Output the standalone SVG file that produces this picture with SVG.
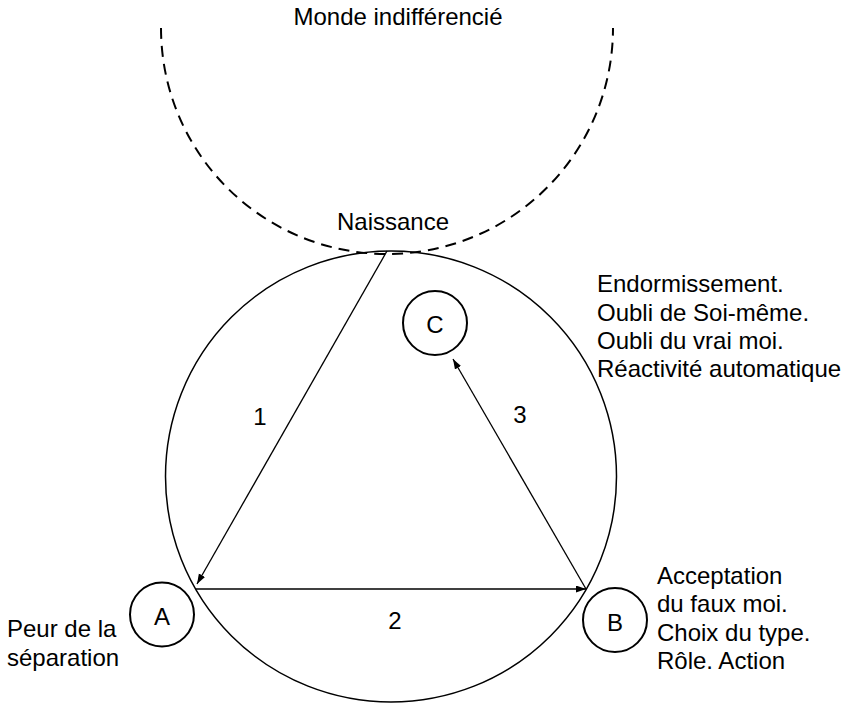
<svg xmlns="http://www.w3.org/2000/svg" width="845" height="703" viewBox="0 0 845 703">
<style>
text{font-family:"Liberation Sans",Arial,sans-serif;font-size:24px;fill:#000}
.mid{text-anchor:middle}
.node{fill:#fff;stroke:#000;stroke-width:2}
.big{fill:none;stroke:#000;stroke-width:1.5}
.dash{fill:none;stroke:#000;stroke-width:2;stroke-dasharray:11 7}
.conn{fill:none;stroke:#000;stroke-width:1.3;marker-end:url(#ah)}
</style>
<defs>
<marker id="ah" markerUnits="userSpaceOnUse" markerWidth="11" markerHeight="8" refX="10" refY="3.5" orient="auto">
<path d="M0,0 L10,3.5 L0,7 z" fill="#000"/>
</marker>
</defs>
<rect width="845" height="703" fill="#fff"/>
<g id="monde">
<path class="dash" d="M161,28 A226,226 0 0 0 613,28"/>
<text class="mid" x="398" y="25">Monde indifférencié</text>
</g>
<g id="cycle">
<circle class="big" cx="391" cy="476.5" r="225.5"/>
<text class="mid" x="393" y="230">Naissance</text>
</g>
<g id="connectors">
<line class="conn" x1="387" y1="251" x2="197" y2="584"/>
<line class="conn" x1="196" y1="589" x2="586" y2="589"/>
<line class="conn" x1="586" y1="589" x2="453" y2="359"/>
<text class="mid" x="260" y="425">1</text>
<text class="mid" x="395" y="629">2</text>
<text class="mid" x="520" y="423">3</text>
</g>
<g id="nodeA">
<circle class="node" cx="162" cy="614.5" r="32"/>
<text class="mid" x="162" y="625">A</text>
<text x="7" y="637">Peur de la</text>
<text x="7" y="666">séparation</text>
</g>
<g id="nodeB">
<circle class="node" cx="615" cy="620" r="32"/>
<text class="mid" x="615" y="631">B</text>
<text x="657" y="584">Acceptation</text>
<text x="657" y="612">du faux moi.</text>
<text x="657" y="640.5">Choix du type.</text>
<text x="657" y="668.5">Rôle. Action</text>
</g>
<g id="nodeC">
<circle class="node" cx="435" cy="323" r="32"/>
<text class="mid" x="435" y="333">C</text>
<text x="597" y="292">Endormissement.</text>
<text x="597" y="321">Oubli de Soi-même.</text>
<text x="597" y="349">Oubli du vrai moi.</text>
<text x="597" y="377">Réactivité automatique</text>
</g>
</svg>
